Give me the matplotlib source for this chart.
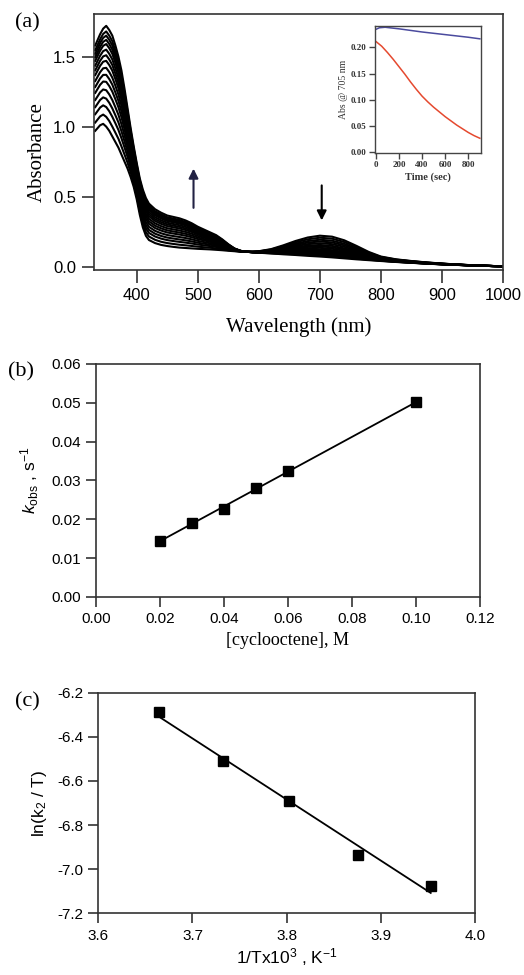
import numpy as np
import matplotlib
matplotlib.use("Agg")
import matplotlib.pyplot as plt

plt.rcParams['font.family'] = ['Liberation Sans', 'DejaVu Sans']
plt.rcParams['mathtext.fontset'] = 'custom'
plt.rcParams['mathtext.rm'] = 'Liberation Sans'
plt.rcParams['mathtext.it'] = 'Liberation Sans:italic'
plt.rcParams['mathtext.bf'] = 'Liberation Sans:bold'
plt.rcParams['axes.unicode_minus'] = False

# (a) spectra: first and last trace
wavelength = [332, 340, 345, 350, 355, 360, 365, 370, 375, 380, 385, 390, 395, 400,
              405, 410, 415, 420, 430, 440, 450, 460, 470, 480, 490, 500, 510, 520,
              530, 540, 550, 560, 570, 580, 590, 600, 620, 640, 660, 680, 700, 720,
              740, 760, 780, 800, 825, 850, 875, 900, 925, 950, 975, 1000]
abs_first = [0.97, 1.01, 1.02, 1.00, 0.97, 0.93, 0.89, 0.85, 0.80, 0.75, 0.70, 0.64, 0.57, 0.48,
             0.37, 0.28, 0.22, 0.19, 0.168, 0.155, 0.147, 0.141, 0.136, 0.133, 0.130, 0.127, 0.125, 0.123,
             0.120, 0.117, 0.113, 0.110, 0.107, 0.106, 0.107, 0.110, 0.125, 0.152, 0.183, 0.208, 0.221, 0.214,
             0.188, 0.148, 0.105, 0.072, 0.052, 0.040, 0.030, 0.022, 0.015, 0.010, 0.005, 0.003]
abs_last = [1.58, 1.66, 1.70, 1.72, 1.69, 1.65, 1.58, 1.50, 1.40, 1.27, 1.13, 0.99, 0.86, 0.74,
            0.63, 0.55, 0.49, 0.45, 0.41, 0.385, 0.365, 0.355, 0.345, 0.33, 0.31, 0.285, 0.265, 0.245,
            0.225, 0.195, 0.16, 0.13, 0.113, 0.106, 0.102, 0.099, 0.094, 0.088, 0.083, 0.077, 0.072, 0.066,
            0.059, 0.052, 0.046, 0.040, 0.033, 0.027, 0.021, 0.016, 0.012, 0.008, 0.005, 0.002]
# absorbance of each trace at 350 nm
trace_abs_350 = [1.00, 1.07, 1.14, 1.20, 1.26, 1.32, 1.37, 1.42, 1.47, 1.51, 1.55, 1.59,
                 1.62, 1.65, 1.68, 1.72]

# inset: Abs @ 705 nm vs time
t_red = [0, 50, 100, 150, 200, 250, 300, 350, 400, 450, 500, 550, 600, 650, 700, 750, 800, 850, 900]
abs_red = [0.211, 0.202, 0.190, 0.177, 0.163, 0.149, 0.134, 0.120, 0.107, 0.096, 0.086,
           0.077, 0.068, 0.060, 0.052, 0.045, 0.038, 0.032, 0.027]
t_blue = [0, 30, 80, 200, 400, 600, 800, 900]
abs_blue = [0.234, 0.237, 0.238, 0.235, 0.229, 0.224, 0.219, 0.216]

# (b) kobs vs [cyclooctene]
conc = [0.02, 0.03, 0.04, 0.05, 0.06, 0.10]
kobs = [0.0144, 0.0191, 0.0226, 0.0281, 0.0325, 0.0501]

# (c) Eyring plot
inv_T = [3.664, 3.732, 3.803, 3.876, 3.953]
ln_k2T = [-6.289, -6.508, -6.690, -6.936, -7.076]

fig = plt.figure(figsize=(5.24, 9.75), dpi=100)
edge = '#333333'

def style(ax, size):
    for s in ax.spines.values():
        s.set_linewidth(1.2)
        s.set_color(edge)
    ax.tick_params(direction='out', length=7, width=1.2, color=edge,
                   labelsize=size, top=False, right=False, pad=4)

# ---- (a)
ax1 = fig.add_axes([0.1794, 0.7231, 0.7806, 0.2626])
spec0 = np.array(abs_first)
spec1 = np.array(abs_last)
for v in trace_abs_350:
    f = (v - trace_abs_350[0]) / (trace_abs_350[-1] - trace_abs_350[0])
    ax1.plot(wavelength, spec0 + f * (spec1 - spec0), color='black', lw=1.5)
ax1.set_xlim(330, 1000)
ax1.set_ylim(-0.024, 1.805)
ax1.set_xticks([400, 500, 600, 700, 800, 900, 1000])
ax1.set_yticks([0.0, 0.5, 1.0, 1.5])
ax1.set_yticklabels(['0.0', '0.5', '1.0', '1.5'])
style(ax1, 12)
ax1.tick_params(length=9)
ax1.set_xlabel('Wavelength (nm)', family='Liberation Serif', fontsize=15, va='center')
ax1.xaxis.set_label_coords(0.5, -0.222)
ax1.set_ylabel('Absorbance', family='Liberation Serif', fontsize=15, va='center')
ax1.yaxis.set_label_coords(-0.139, 0.46)
ax1.annotate('', xy=(493, 0.72), xytext=(493, 0.40),
             arrowprops=dict(arrowstyle='-|>', color='#222244', lw=1.5, mutation_scale=14))
ax1.annotate('', xy=(703, 0.31), xytext=(703, 0.60),
             arrowprops=dict(arrowstyle='-|>', color='black', lw=1.5, mutation_scale=14))

# inset
axi = fig.add_axes([0.7156, 0.8431, 0.2023, 0.1303])
axi.plot(t_blue, abs_blue, color='#4b4b9e', lw=1.1)
axi.plot(t_red, abs_red, color='#e5492f', lw=1.1)
axi.set_xlim(-8, 910)
axi.set_ylim(-0.001, 0.2405)
axi.set_xticks([0, 200, 400, 600, 800])
axi.set_yticks([0.0, 0.05, 0.10, 0.15, 0.20])
axi.set_yticklabels(['0.00', '0.05', '0.10', '0.15', '0.20'])
for s in axi.spines.values():
    s.set_linewidth(1.0)
    s.set_color('#444444')
axi.tick_params(direction='out', length=4, width=1.0, color='#444444', pad=2)
for lab in axi.get_xticklabels() + axi.get_yticklabels():
    lab.set_family('Liberation Serif')
    lab.set_fontweight('bold')
    lab.set_fontsize(6.5)
    lab.set_color('#333333')
axi.set_xlabel('Time (sec)', family='Liberation Serif', fontweight='bold', fontsize=7.5,
               color='#333333', labelpad=2)
axi.set_ylabel('Abs @ 705 nm', family='Liberation Serif', fontsize=7, color='#333333', labelpad=2)

# ---- (b)
ax2 = fig.add_axes([0.1832, 0.3877, 0.7328, 0.2390])
fit_b = np.polyfit(conc, kobs, 1)
xb = np.array([conc[0], conc[-1]])
ax2.plot(xb, np.polyval(fit_b, xb), color='black', lw=1.3)
ax2.plot(conc, kobs, 's', color='black', ms=7)
ax2.set_xlim(0, 0.12)
ax2.set_ylim(0, 0.06)
ax2.set_xticks([0.00, 0.02, 0.04, 0.06, 0.08, 0.10, 0.12])
ax2.set_xticklabels(['0.00', '0.02', '0.04', '0.06', '0.08', '0.10', '0.12'])
ax2.set_yticks([0.00, 0.01, 0.02, 0.03, 0.04, 0.05, 0.06])
ax2.set_yticklabels(['0.00', '0.01', '0.02', '0.03', '0.04', '0.05', '0.06'])
style(ax2, 11)
ax2.set_xlabel('[cyclooctene], M', family='Liberation Serif', fontsize=13, va='center')
ax2.xaxis.set_label_coords(0.5, -0.185)
ax2.set_ylabel(r'$k_{\mathrm{obs}}$ , s$^{-1}$', fontsize=12.5, va='center')
ax2.yaxis.set_label_coords(-0.172, 0.5)

# ---- (c)
ax3 = fig.add_axes([0.1876, 0.0633, 0.7189, 0.2263])
fit_c = np.polyfit(inv_T, ln_k2T, 1)
xc = np.array([inv_T[0], inv_T[-1]])
ax3.plot(xc, np.polyval(fit_c, xc), color='black', lw=1.3)
ax3.plot(inv_T, ln_k2T, 's', color='black', ms=6.5)
ax3.set_xlim(3.6, 4.0)
ax3.set_ylim(-7.2, -6.2)
ax3.set_xticks([3.6, 3.7, 3.8, 3.9, 4.0])
ax3.set_yticks([-7.2, -7.0, -6.8, -6.6, -6.4, -6.2])
style(ax3, 11)
ax3.set_xlabel(r'1/Tx10$^{3}$ , K$^{-1}$', fontsize=12.5, va='center')
ax3.xaxis.set_label_coords(0.5, -0.2)
ax3.set_ylabel(r'ln(k$_{2}$ / T)', fontsize=12.5, va='center')
ax3.yaxis.set_label_coords(-0.155, 0.5)

fig.text(0.052, 0.977, '(a)', family='Liberation Serif', fontsize=16, ha='center', va='center')
fig.text(0.040, 0.619, '(b)', family='Liberation Serif', fontsize=16, ha='center', va='center')
fig.text(0.052, 0.280, '(c)', family='Liberation Serif', fontsize=16, ha='center', va='center')

fig.savefig('out.png', dpi=100)
